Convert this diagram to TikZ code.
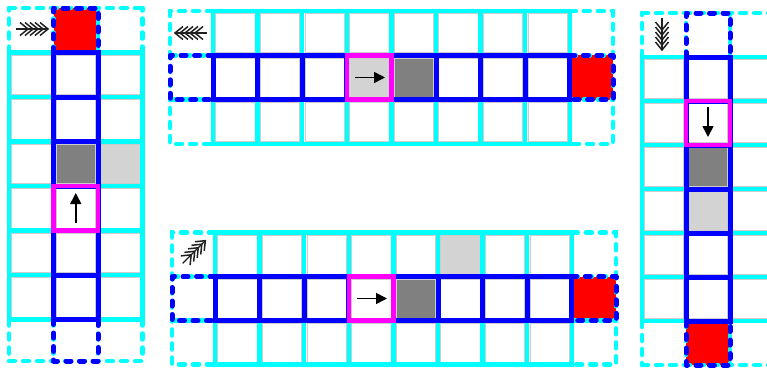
\documentclass[tikz,border=0pt]{standalone}
\usetikzlibrary{arrows.meta}
\definecolor{cy}{RGB}{0,255,255}
\definecolor{bl}{RGB}{0,0,255}
\definecolor{mg}{RGB}{255,0,255}
\definecolor{rd}{RGB}{255,0,0}
\definecolor{dg}{RGB}{128,128,128}
\definecolor{lg}{RGB}{211,211,211}
\tikzset{
  cyanline/.style={draw=cy,line width=4.5pt,line cap=rect},
  cyandash/.style={draw=cy,line width=4.5pt,line cap=round,dash pattern=on 6pt off 8pt},
  blueline/.style={draw=bl,line width=5pt,line cap=rect},
  bluedash/.style={draw=bl,line width=5pt,line cap=round,line join=round,dash pattern=on 5pt off 8.5pt},
  magline/.style={draw=mg,line width=4.5pt,line cap=rect},
  cellbox/.style={draw=gray!40,line width=0.6pt},
  movearrow/.style={draw=black,line width=1.6pt,-{Triangle[length=11pt,width=11pt]}},
  fletch/.pic={
    \draw[gray!25!black,line width=1.3pt] (-16,0) -- (16,0);
    \foreach \t in {-4,1,6,11,16}{
      \draw[gray!25!black,line width=1.5pt,line join=miter] (\t-8,-6.5) -- (\t,0) -- (\t-8,6.5);
    }
  }
}
\begin{document}
\begin{tikzpicture}[x=1pt,y=-1pt]
\useasboundingbox (0,0) rectangle (767,367);
\fill[white] (0,0) rectangle (767,367);
\clip (0,0) rectangle (767,367);

% ================= LEFT PANEL =================
\fill[rd] (53.5,8) rectangle (98,52.5);
\fill[dg] (53.5,141.5) rectangle (98,186);
\fill[lg] (98,141.5) rectangle (142.5,186);
\foreach \i in {0,1,2} \foreach \j in {0,...,5}
  \draw[cellbox] (9+44.5*\i+2.6,52.5+44.5*\j+2.6) rectangle (9+44.5*\i+44.5-2.6,52.5+44.5*\j+44.5-2.6);
\foreach \i in {0,...,3} \draw[cyanline] (9+44.5*\i,52.5) -- (9+44.5*\i,319.5);
\foreach \j in {0,...,6} \draw[cyanline] (9,52.5+44.5*\j) -- (142.5,52.5+44.5*\j);
\draw[cyandash] (9,8) -- (142.5,8);
\draw[cyandash] (9,361) -- (142.5,361);
\foreach \i in {0,...,3} {
  \draw[cyandash] (9+44.5*\i,52.5) -- (9+44.5*\i,8);
  \draw[cyandash] (9+44.5*\i,319.5) -- (9+44.5*\i,361);
}
\draw[blueline] (53.5,52.5) -- (53.5,319.5);
\draw[blueline] (98,52.5) -- (98,319.5);
\foreach \j in {0,...,6} \draw[blueline] (53.5,52.5+44.5*\j) -- (98,52.5+44.5*\j);
\draw[bluedash] (53.5,52.5) -- (53.5,8) -- (98,8) -- (98,52.5);
\draw[bluedash] (53.5,319.5) -- (53.5,361) -- (98,361) -- (98,319.5);
\draw[magline] (53.5,186) rectangle (98,230.5);
\draw[movearrow] (75.75,223) -- (75.75,193);
\pic at (32,29) {fletch};

% ================= TOP PANEL =================
\fill[rd] (569.8,55.3) rectangle (613,99.6);
\fill[dg] (391.4,55.3) rectangle (436,99.6);
\fill[lg] (346.8,55.3) rectangle (391.4,99.6);
\foreach \i in {0,...,7} \foreach \j in {0,1,2}
  \draw[cellbox] (213+44.6*\i+2.6,11+44.3*\j+2.6) rectangle (213+44.6*\i+44.6-2.6,11+44.3*\j+44.3-2.6);
\foreach \i in {0,...,8} \draw[cyanline] (213+44.6*\i,11) -- (213+44.6*\i,143.9);
\foreach \j in {0,...,3} \draw[cyanline] (213,11+44.3*\j) -- (569.8,11+44.3*\j);
\draw[cyandash] (213,11) -- (170,11) -- (170,143.9) -- (213,143.9);
\draw[cyandash] (170,55.3) -- (213,55.3);
\draw[cyandash] (170,99.6) -- (213,99.6);
\draw[cyandash] (569.8,11) -- (613,11) -- (613,143.9) -- (569.8,143.9);
\draw[cyandash] (569.8,55.3) -- (613,55.3);
\draw[cyandash] (569.8,99.6) -- (613,99.6);
\draw[blueline] (213,55.3) -- (569.8,55.3);
\draw[blueline] (213,99.6) -- (569.8,99.6);
\foreach \i in {0,...,8} \draw[blueline] (213+44.6*\i,55.3) -- (213+44.6*\i,99.6);
\draw[bluedash] (213,55.3) -- (170,55.3) -- (170,99.6) -- (213,99.6);
\draw[bluedash] (569.8,55.3) -- (613,55.3) -- (613,99.6) -- (569.8,99.6);
\draw[magline] (346.8,55.3) rectangle (391.4,99.6);
\draw[movearrow] (355,77.5) -- (385,77.5);
\pic[rotate=180] at (191,33) {fletch};

% ================= BOTTOM PANEL =================
\fill[rd] (571.8,276.5) rectangle (616,320.5);
\fill[dg] (393.4,276.5) rectangle (438,320.5);
\fill[lg] (438,232.5) rectangle (482.6,276.5);
\foreach \i in {0,...,7} \foreach \j in {0,1,2}
  \draw[cellbox] (215+44.6*\i+2.6,232.5+44*\j+2.6) rectangle (215+44.6*\i+44.6-2.6,232.5+44*\j+44-2.6);
\foreach \i in {0,...,8} \draw[cyanline] (215+44.6*\i,232.5) -- (215+44.6*\i,364.5);
\foreach \j in {0,...,3} \draw[cyanline] (215,232.5+44*\j) -- (571.8,232.5+44*\j);
\draw[cyandash] (215,232.5) -- (172,232.5) -- (172,364.5) -- (215,364.5);
\draw[cyandash] (172,276.5) -- (215,276.5);
\draw[cyandash] (172,320.5) -- (215,320.5);
\draw[cyandash] (571.8,232.5) -- (616,232.5) -- (616,364.5) -- (571.8,364.5);
\draw[cyandash] (571.8,276.5) -- (616,276.5);
\draw[cyandash] (571.8,320.5) -- (616,320.5);
\draw[blueline] (215,276.5) -- (571.8,276.5);
\draw[blueline] (215,320.5) -- (571.8,320.5);
\foreach \i in {0,...,8} \draw[blueline] (215+44.6*\i,276.5) -- (215+44.6*\i,320.5);
\draw[bluedash] (215,276.5) -- (172,276.5) -- (172,320.5) -- (215,320.5);
\draw[bluedash] (571.8,276.5) -- (616,276.5) -- (616,320.5) -- (571.8,320.5);
\draw[magline] (348.8,276.5) rectangle (393.4,320.5);
\draw[movearrow] (357,298.5) -- (387,298.5);
\pic[rotate=45] at (194,252) {fletch};

% ================= RIGHT PANEL =================
\fill[rd] (686,321) rectangle (730,365);
\fill[dg] (686,145) rectangle (730,189);
\fill[lg] (686,189) rectangle (730,233);
\foreach \i in {0,1,2} \foreach \j in {1,...,6}
  \draw[cellbox] (642+44*\i+2.6,13+44*\j+2.6) rectangle (642+44*\i+44-2.6,13+44*\j+44-2.6);
\foreach \i in {0,...,3} \draw[cyanline] (642+44*\i,57) -- (642+44*\i,321);
\foreach \j in {1,...,7} \draw[cyanline] (642,13+44*\j) -- (774,13+44*\j);
\draw[cyandash] (642,13) -- (774,13);
\draw[cyandash] (642,365) -- (774,365);
\foreach \i in {0,...,3} {
  \draw[cyandash] (642+44*\i,57) -- (642+44*\i,13);
  \draw[cyandash] (642+44*\i,321) -- (642+44*\i,365);
}
\draw[blueline] (686,57) -- (686,321);
\draw[blueline] (730,57) -- (730,321);
\foreach \j in {1,...,7} \draw[blueline] (686,13+44*\j) -- (730,13+44*\j);
\draw[bluedash] (686,57) -- (686,13) -- (730,13) -- (730,57);
\draw[bluedash] (686,321) -- (686,365) -- (730,365) -- (730,321);
\draw[magline] (686,101) rectangle (730,145);
\draw[movearrow] (708,107) -- (708,137);
\pic[rotate=-90] at (662,34) {fletch};
\end{tikzpicture}
\end{document}
